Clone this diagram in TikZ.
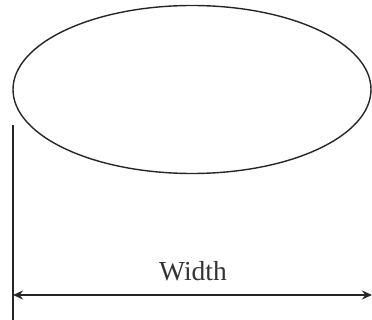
\documentclass[tikz,border=0pt]{standalone}
\usepackage{fontspec}
\setmainfont{Liberation Serif}
\usetikzlibrary{shapes.geometric,arrows.meta}
\begin{document}
\begin{tikzpicture}[x=1pt,y=-1pt,
  outline/.style={draw=black!85,line width=1.4pt},
  dimline/.style={draw=black!85,line width=1.5pt,{Stealth[length=10pt,width=9pt]}-{Stealth[length=10pt,width=9pt]}},
  lbl/.style={font=\fontsize{27.5}{30}\selectfont,text=black!80,inner sep=0pt}]
\useasboundingbox (0,0) rectangle (372,320);
\node[outline,ellipse,minimum width=358pt,minimum height=168pt,inner sep=0pt] (e) at (192,89.5) {};
\coordinate (t1) at (13,125);
\coordinate (b1) at (13,321);
\draw[outline] (t1) -- (b1);
\coordinate (a) at (13,295);
\coordinate (b) at (372,295);
\draw[dimline] (a) -- (b);
\node[lbl] (w) at (193,271) {Width};
\end{tikzpicture}
\end{document}
